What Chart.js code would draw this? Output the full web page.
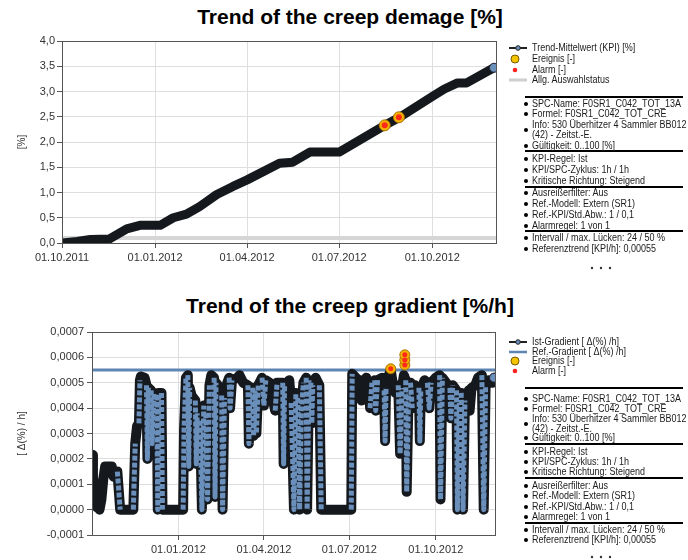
<!DOCTYPE html>
<html><head><meta charset="utf-8">
<script src="https://cdn.jsdelivr.net/npm/chart.js@4.4.1/dist/chart.umd.min.js"></script>
<style>
body{margin:0;background:#fff;width:688px;height:560px;overflow:hidden;position:relative;font-family:"Liberation Sans",Arial,sans-serif;}
.title{position:absolute;left:0;width:700px;text-align:center;font-weight:bold;font-size:21px;line-height:24px;color:#000;}
#w1{position:absolute;left:0;top:0;}
#w2{position:absolute;left:0;top:300px;}
.pt{position:absolute;font-size:10px;line-height:12px;color:#1a1a1a;white-space:nowrap;transform:scaleX(0.9);transform-origin:0 50%;}
#deco{position:absolute;left:0;top:0;pointer-events:none;}
</style></head>
<body>
<div class="title" style="top:5px">Trend of the creep demage [%]</div>
<div class="title" style="top:294px">Trend of the creep gradient [%/h]</div>
<canvas id="w1" width="510" height="280"></canvas>
<canvas id="w2" width="510" height="260"></canvas>
<svg id="deco" width="688" height="560" xmlns="http://www.w3.org/2000/svg"></svg>
<script>
// ---------- DATA ----------
const axisStart = '2011-10-01';
const axisEnd = '2012-12-03';
const tickDates = ['2011-10-01','2012-01-01','2012-04-01','2012-07-01','2012-10-01'];
const tickLabels = ['01.10.2011','01.01.2012','01.04.2012','01.07.2012','01.10.2012'];

// creep damage trend [%]
const creepDates = ['2011-10-01','2011-10-16','2011-10-29','2011-11-17','2011-12-04','2011-12-17','2012-01-06','2012-01-19',
  '2012-02-01','2012-02-14','2012-03-02','2012-03-18','2012-04-01','2012-05-03','2012-05-16','2012-06-02',
  '2012-07-01','2012-08-15','2012-08-29','2012-10-01','2012-10-13','2012-10-26','2012-11-04','2012-12-01'];
const creepValues = [0,0.03,0.07,0.08,0.28,0.35,0.35,0.5,
  0.57,0.72,0.96,1.12,1.25,1.58,1.6,1.8,
  1.8,2.33,2.48,2.9,3.05,3.17,3.17,3.47];
const statusValue = 0.1;
const creepAlarmDates = ['2012-08-15','2012-08-29'];
const creepAlarmValues = [2.33,2.49];

// creep gradient [%/h]
const gradDates = [
'2011-10-01','2011-10-02','2011-10-03','2011-10-04','2011-10-06','2011-10-08','2011-10-09','2011-10-11','2011-10-13','2011-10-15',
'2011-10-22','2011-10-24','2011-10-26','2011-10-28','2011-10-31','2011-11-14','2011-11-16','2011-11-18','2011-11-20','2011-11-21',
'2011-11-22','2011-11-26','2011-11-28','2011-11-29','2011-11-30','2011-12-03','2011-12-04','2011-12-06','2011-12-09','2011-12-10',
'2011-12-11','2011-12-14','2011-12-15','2012-01-06','2012-01-07','2012-01-09','2012-01-11','2012-01-12','2012-01-13','2012-01-15',
'2012-01-19','2012-01-20','2012-01-21','2012-01-24','2012-01-26','2012-01-28','2012-01-30','2012-02-01','2012-02-03','2012-02-05',
'2012-02-08','2012-02-09','2012-02-10','2012-02-14','2012-02-16','2012-02-17','2012-02-19','2012-02-22','2012-02-24','2012-02-25',
'2012-02-27','2012-03-04','2012-03-06','2012-03-10','2012-03-15','2012-03-16','2012-03-17','2012-03-20','2012-03-21','2012-03-23',
'2012-03-24','2012-03-26','2012-03-30','2012-04-01','2012-04-03','2012-04-07','2012-04-09','2012-04-13','2012-04-15','2012-04-21',
'2012-04-22','2012-04-23','2012-04-28','2012-04-30','2012-05-03','2012-05-05','2012-05-07','2012-05-09','2012-05-11','2012-05-13',
'2012-05-16','2012-05-17','2012-05-19','2012-05-21','2012-05-22','2012-05-23','2012-05-26','2012-05-30','2012-06-01','2012-07-03',
'2012-07-04','2012-07-08','2012-07-10','2012-07-13','2012-07-14','2012-07-16','2012-07-19','2012-07-22','2012-07-23','2012-07-25',
'2012-07-28','2012-07-29','2012-07-31','2012-08-05','2012-08-07','2012-08-08','2012-08-09','2012-08-12','2012-08-14','2012-08-16',
'2012-08-19','2012-08-22','2012-08-24','2012-08-26','2012-08-28','2012-08-30','2012-08-31','2012-09-02','2012-09-04','2012-09-06',
'2012-09-09','2012-09-13','2012-09-14','2012-09-15','2012-09-19','2012-09-22','2012-09-24','2012-09-26','2012-10-01','2012-10-05',
'2012-10-06','2012-10-08','2012-10-12','2012-10-16','2012-10-17','2012-10-19','2012-10-23','2012-10-24','2012-10-26','2012-10-28',
'2012-10-30','2012-11-01','2012-11-05','2012-11-06','2012-11-08','2012-11-12','2012-11-15','2012-11-19','2012-11-21','2012-11-23',
'2012-11-26','2012-11-30','2012-12-02'];
const gradValues = [
0.000215,0.00013,0.00009,0.00005,0.00001,0.00003,0,0.00004,0.00012,0.00017,
0.00017,0.00013,0.00015,0.00015,0,0,0.00026,0.00033,0.00034,0.00051,
0.000525,0.00052,0.00049,0.0002,0.00048,0.00047,0.00026,0.00046,0.00045,0,
0.00046,0.00046,0,0,0.00032,0.00052,0.00053,0.00017,0.00048,0.00045,
0.00043,0.00018,0.00038,0.00035,0,0.00041,0.00038,0.00004,0.00049,0.00053,
0.00052,0.00005,0.0005,0.00048,0.00045,0,0.00044,0.0005,0.00052,0.0004,
0.00051,0.00052,0.00053,0.0005,0.00049,0.00026,0.00046,0.00048,0.00029,0.00046,
0.0003,0.00049,0.00052,0.00041,0.00051,0.0005,0.00046,0.00039,0.0005,0.0005,
0.00018,0.00049,0.00051,0.00042,0,0.00046,0.00044,0,0.0004,0.0005,
0.00052,0,0.00051,0.0005,0.00034,0.00049,0.00052,0.00049,0,0,
0.000535,0.00052,0.00049,0.00051,0.00043,0.0005,0.00052,0.00049,0.0004,0.0005,
0.00051,0.00039,0.00051,0.00052,0.00047,0.00027,0.00048,0.00053,0.00055,0.0005,
0.00046,0.00049,0.00022,0.00048,0.00053,0.00051,0.00007,0.00046,0.0005,0.0004,
0.00049,0.00048,0.00027,0.00047,0.00051,0.0005,0.0004,0.0005,0.00052,0.00053,
0.00004,0.00052,0.0005,0.00048,0.00036,0.00049,0.00047,0,0.00042,0.00046,
0,0.00043,0.00047,0.00039,0.00048,0.00049,0.00052,0.00053,0,0.00049,
0.00051,0.0005,0.00052];
const refGradient = 0.00055;
const gradAlarmDates = ['2012-08-14','2012-08-29','2012-08-29','2012-08-29'];
const gradAlarmValues = [0.000555,0.00057,0.00059,0.00061];

// ---------- helpers ----------
const dayOf = s => { const [y,m,d] = s.split('-').map(Number); return (Date.UTC(y,m-1,d) - Date.UTC(2011,9,1)) / 86400000; };
const pts = (dates, vals) => dates.map((d,i) => ({x: dayOf(d), y: vals[i]}));
const xMin = dayOf(axisStart), xMax = dayOf(axisEnd);
const FONT = {family: '"Liberation Sans", Arial, sans-serif', size: 11};
const TXT = '#333';
const GRID = '#dedede';
const AXIS = '#555';
const BLUE = '#6a8fba';
const DARK = '#15191e';

const boxPlugin = {
  id: 'box',
  afterDatasetsDraw(chart) {
    const {ctx, chartArea: a} = chart;
    ctx.save(); ctx.strokeStyle = AXIS; ctx.lineWidth = 1;
    ctx.strokeRect(Math.round(a.left)+0.5, Math.round(a.top)+0.5, Math.round(a.right-a.left), Math.round(a.bottom-a.top));
    ctx.restore();
  }
};

function xScale(showFirst) {
  const tv = tickDates.map(dayOf);
  return {
    type: 'linear', min: xMin, max: xMax,
    afterBuildTicks: s => { s.ticks = tv.filter((v,i) => showFirst || i > 0).map(v => ({value: v})); },
    afterFit: s => { s.height = 25; },
    ticks: {font: FONT, color: TXT, maxRotation: 0, autoSkip: false, padding: 3,
      callback: v => tickLabels[tv.indexOf(v)]},
    grid: {color: GRID, tickColor: AXIS, tickLength: 5},
    border: {color: AXIS}
  };
}

// ---------- chart 1 ----------
const creepPts = pts(creepDates, creepValues);
new Chart(document.getElementById('w1'), {
  type: 'line',
  data: {datasets: [
    {label: 'Alarm', data: pts(creepAlarmDates, creepAlarmValues), showLine: false, pointRadius: 3, pointBackgroundColor: '#ff2a1a', pointBorderWidth: 0, order: 0},
    {label: 'Ereignis', data: pts(creepAlarmDates, creepAlarmValues), showLine: false, pointRadius: 5.5, pointBackgroundColor: '#f2b400', pointBorderColor: '#b07000', pointBorderWidth: 1, order: 1},
    {label: 'Trend', data: creepPts, borderColor: DARK, borderWidth: 9, borderCapStyle: 'round', borderJoinStyle: 'round',
      pointRadius: c => c.dataIndex === creepPts.length - 1 ? 4.5 : 0, pointBackgroundColor: BLUE, pointBorderColor: '#223', pointBorderWidth: 1, tension: 0, order: 2},
    {label: 'Status', data: [{x: xMin, y: statusValue}, {x: xMax, y: statusValue}], borderColor: '#d6d6d6', borderWidth: 4, pointRadius: 0, order: 3}
  ]},
  options: {
    responsive: false, animation: false, events: [],
    layout: {padding: {left: 0, top: 41, right: 14, bottom: 12}},
    plugins: {legend: {display: false}, tooltip: {enabled: false}},
    scales: {
      x: xScale(true),
      y: {min: 0, max: 4, afterFit: s => { s.width = 62; },
        ticks: {stepSize: 0.5, font: FONT, color: TXT, padding: 2, callback: v => v.toFixed(1).replace('.', ',')},
        grid: {color: GRID, tickColor: AXIS, tickLength: 5}, border: {color: AXIS},
        title: {display: true, text: '[%]', font: {family: FONT.family, size: 10}, color: TXT, padding: {top: 16, bottom: 0}}}
    }
  },
  plugins: [boxPlugin]
});

// ---------- chart 2 ----------
const gradPts = pts(gradDates, gradValues);
const steep = c => Math.abs(c.p1.y - c.p0.y) > 24 && Math.abs(c.p1.y - c.p0.y) > 2 * Math.abs(c.p1.x - c.p0.x);
new Chart(document.getElementById('w2'), {
  type: 'line',
  data: {datasets: [
    {label: 'Alarm', data: pts(gradAlarmDates, gradAlarmValues), showLine: false, pointRadius: 2.5, pointBackgroundColor: '#ff2a1a', pointBorderWidth: 0, order: 0},
    {label: 'Ereignis', data: pts(gradAlarmDates, gradAlarmValues), showLine: false, pointRadius: 5, pointBackgroundColor: '#f2b400', pointBorderColor: '#b07000', pointBorderWidth: 1, order: 1},
    {label: 'Ist inner', data: gradPts, borderColor: BLUE, borderWidth: 5, borderCapStyle: 'butt', borderJoinStyle: 'round',
      segment: {borderColor: c => steep(c) ? BLUE : 'rgba(0,0,0,0)', borderDash: c => steep(c) ? [5, 2] : undefined},
      pointRadius: c => c.dataIndex === gradPts.length - 1 ? 4.5 : 0, pointBackgroundColor: BLUE, pointBorderColor: '#223', pointBorderWidth: 1, order: 2},
    {label: 'Ist-Gradient', data: gradPts, borderColor: DARK, borderWidth: 10, borderCapStyle: 'round', borderJoinStyle: 'round', pointRadius: 0, order: 3},
    {label: 'Ref', data: [{x: xMin, y: refGradient}, {x: xMax, y: refGradient}], borderColor: '#5f86b3', borderWidth: 3, pointRadius: 0, order: 4}
  ]},
  options: {
    responsive: false, animation: false, events: [],
    layout: {padding: {left: 0, top: 32, right: 15, bottom: 0}},
    plugins: {legend: {display: false}, tooltip: {enabled: false}},
    scales: {
      x: xScale(false),
      y: {min: -0.0001, max: 0.0007, afterFit: s => { s.width = 92; },
        ticks: {stepSize: 0.0001, font: FONT, color: TXT, padding: 3, callback: v => v.toFixed(4).replace('.', ',')},
        grid: {color: GRID, tickColor: AXIS, tickLength: 5}, border: {color: AXIS},
        title: {display: true, text: '[ Δ(%) / h]', font: {family: FONT.family, size: 10}, color: TXT, padding: {top: 16, bottom: 0}}}
    }
  },
  plugins: [boxPlugin]
});

// ---------- side panels ----------
const svg = document.getElementById('deco');
const NS = 'http://www.w3.org/2000/svg';
function el(tag, attrs) { const e = document.createElementNS(NS, tag); for (const k in attrs) e.setAttribute(k, attrs[k]); svg.appendChild(e); return e; }
function text(t, x, y) { const d = document.createElement('div'); d.className = 'pt'; d.textContent = t; d.style.left = x + 'px'; d.style.top = (y - 6) + 'px'; document.body.appendChild(d); }
function symbol(kind, y) {
  if (kind === 'trend') { el('line', {x1: 509, y1: y, x2: 527, y2: y, stroke: '#222', 'stroke-width': 2}); el('circle', {cx: 518, cy: y, r: 2.3, fill: BLUE, stroke: '#222', 'stroke-width': 1}); }
  if (kind === 'ref') el('line', {x1: 509, y1: y, x2: 527, y2: y, stroke: '#5f86b3', 'stroke-width': 2.5});
  if (kind === 'event') el('circle', {cx: 515, cy: y, r: 4, fill: '#f5c400', stroke: '#7a5a00', 'stroke-width': 1});
  if (kind === 'alarm') el('circle', {cx: 515, cy: y, r: 2.3, fill: '#ff2020'});
  if (kind === 'status') el('line', {x1: 509, y1: y, x2: 527, y2: y, stroke: '#cfcfcf', 'stroke-width': 3});
}
function panel(p) {
  p.legend.forEach(([k, t, y]) => { symbol(k, y); text(t, 532, y); });
  p.seps.forEach(y => el('rect', {x: 525, y: y - 1, width: 158, height: 2, fill: '#000'}));
  p.items.forEach(([lines, y]) => {
    const arr = Array.isArray(lines) ? lines : [lines];
    const by = arr.length > 1 ? y + 5 : y;
    el('circle', {cx: 526, cy: by, r: 2, fill: '#000'});
    arr.forEach((t, i) => text(t, 532, y + i * 10));
  });
  [592, 601, 610].forEach(x => el('circle', {cx: x, cy: p.dots, r: 1.2, fill: '#333'}));
}
const infoItems = ['SPC-Name: F0SR1_C042_TOT_13A', 'Formel: F0SR1_C042_TOT_CRE', ['Info: 530 Überhitzer 4 Sammler BB012', '(42) - Zeitst.-E.'],
  'Gültigkeit: 0..100 [%]', 'KPI-Regel: Ist', 'KPI/SPC-Zyklus: 1h / 1h', 'Kritische Richtung: Steigend',
  'Ausreißerfilter: Aus', 'Ref.-Modell: Extern (SR1)', 'Ref.-KPI/Std.Abw.: 1 / 0,1', 'Alarmregel: 1 von 1',
  'Intervall / max. Lücken: 24 / 50 %', 'Referenztrend [KPI/h]: 0,00055'];
const topY = [104, 114, 125, 146, 159, 170, 181, 193, 204, 215, 226, 238, 249];
const botY = [399, 409, 419, 438, 452, 462, 472, 486, 496, 507, 517, 530, 540];
panel({legend: [['trend', 'Trend-Mittelwert (KPI) [%]', 48], ['event', 'Ereignis [-]', 59], ['alarm', 'Alarm [-]', 70], ['status', 'Allg. Auswahlstatus', 80]],
  seps: [97, 151, 187, 231], items: infoItems.map((t, i) => [t, topY[i]]), dots: 268});
panel({legend: [['trend', 'Ist-Gradient [ Δ(%) /h]', 342], ['ref', 'Ref.-Gradient [ Δ(%) /h]', 352], ['event', 'Ereignis [-]', 361], ['alarm', 'Alarm [-]', 371]],
  seps: [388, 444, 478, 523], items: infoItems.map((t, i) => [t, botY[i]]), dots: 557});
</script>
</body></html>
